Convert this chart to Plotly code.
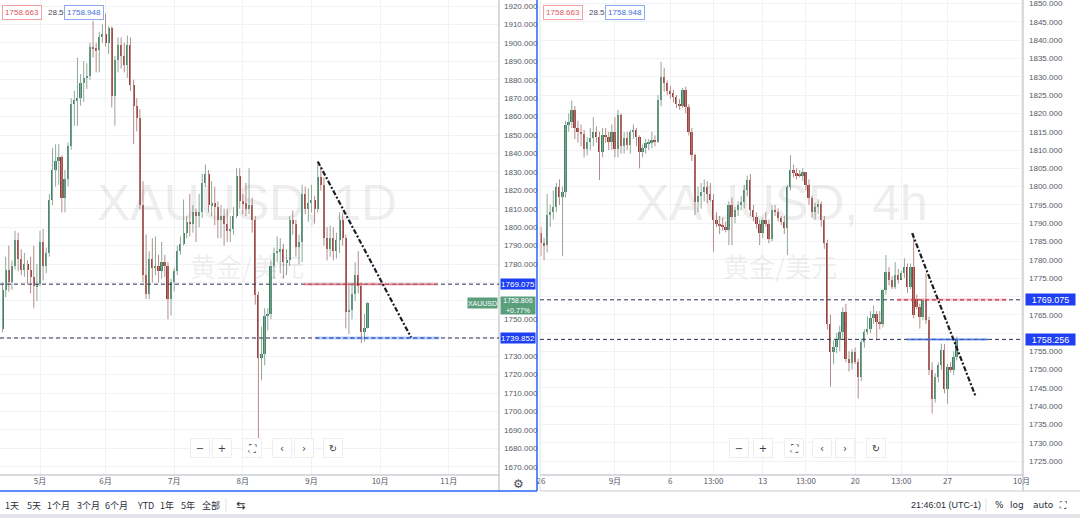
import plotly.graph_objects as go

# ---------------- data: daily XAUUSD (left panel) ----------------
d_open = [1733,1745,1766,1777,1770,1779,1793,1783,1777,1780,1777,1773,1768,1769,1792,1779,1786,1815,1831,1836,
          1838,1816,1826,1844,1867,1869,1870,1878,1881,1882,1898,1897,1896,1903,1905,1900,1908,1871,1891,1899,
          1893,1888,1899,1877,1866,1859,1812,1774,1764,1783,1778,1779,1776,1781,1779,1761,1770,1776,1787,1791,
          1797,1803,1802,1808,1806,1808,1824,1829,1812,1813,1811,1804,1806,1802,1798,1799,1806,1828,1814,1813,
          1810,1812,1804,1763,1729,1731,1752,1753,1779,1786,1787,1788,1781,1782,1804,1802,1789,1792,1818,1810,
          1813,1815,1810,1827,1823,1794,1788,1794,1787,1793,1804,1794,1754,1755,1764,1774,1768,1743,1745.4]
d_high = [1747,1770,1784,1790,1782,1798,1797,1788,1786,1782,1784,1790,1780,1798,1799,1789,1818,1843,1845,1845,
          1839,1831,1846,1870,1874,1892,1883,1890,1889,1900,1912,1900,1906,1910,1916,1909,1909,1893,1903,1903,
          1900,1904,1903,1880,1870,1864,1825,1796,1787,1794,1795,1785,1792,1785,1781,1772,1778,1790,1795,1815,
          1806,1818,1812,1810,1818,1829,1834,1831,1825,1822,1814,1812,1810,1810,1806,1811,1832,1832,1818,1824,
          1832,1816,1806,1765,1746,1756,1756,1782,1789,1795,1794,1791,1788,1806,1809,1804,1796,1823,1822,1821,
          1823,1817,1834,1833,1827,1800,1801,1800,1797,1808,1808,1796,1770,1769,1781,1787,1770,1753,1759.5]
d_low = [1729,1743,1762,1765,1766,1777,1776,1774,1773,1769,1764,1756,1760,1768,1771,1775,1784,1812,1822,1823,
         1808,1808,1822,1842,1855,1855,1866,1868,1875,1880,1892,1884,1884,1900,1898,1894,1865,1855,1884,1886,
         1884,1881,1874,1845,1852,1810,1770,1761,1761,1770,1774,1770,1772,1773,1750,1752,1765,1774,1785,1790,
         1794,1795,1797,1792,1800,1805,1822,1808,1806,1801,1794,1794,1790,1792,1792,1796,1805,1810,1807,1806,
         1807,1797,1758,1683,1717,1725,1744,1750,1772,1781,1775,1772,1774,1779,1796,1784,1780,1781,1807,1803,
         1808,1802,1808,1820,1790,1782,1784,1782,1783,1786,1790,1745,1742,1750,1760,1764,1737,1738,1745]
d_close = [1745,1766,1777,1770,1779,1793,1783,1777,1780,1777,1773,1768,1769,1792,1779,1786,1815,1831,1836,1838,
           1816,1826,1844,1867,1869,1870,1878,1881,1882,1898,1897,1896,1903,1905,1900,1908,1871,1891,1899,1893,
           1888,1899,1877,1866,1859,1812,1774,1764,1783,1778,1779,1776,1781,1779,1761,1770,1776,1787,1791,1797,
           1803,1802,1808,1806,1808,1824,1829,1812,1813,1811,1804,1806,1802,1798,1799,1806,1828,1814,1813,1810,
           1812,1804,1763,1729,1731,1752,1753,1779,1786,1787,1788,1781,1782,1804,1802,1789,1792,1818,1810,1813,
           1815,1810,1827,1823,1794,1788,1794,1787,1793,1804,1794,1754,1755,1764,1774,1768,1743,1745.4,1758.8]

d_tick_pos = [13, 34, 56, 78, 100, 122, 144]
d_tick_text = ["5月", "6月", "7月", "8月", "9月", "10月", "11月"]
d_price_ticks = list(range(1670, 1921, 10))
d_price_hidden = [1770, 1760, 1740]   # covered by the price labels in the reference

# ---------------- data: 4h XAUUSD (right panel) ----------------
h_open = [1787.2,1784.5,1784,1792.2,1793,1794.5,1800,1797.2,1798.6,1816.8,1817.7,1820.9,1815.9,1815,1814.5,1810.4,1812.2,1813.2,1815,1813.6,
          1809.5,1814.1,1813.6,1812.2,1815,1810.4,1819.5,1811,1813.2,1811.3,1815,1815.4,1813.6,1809.5,1810.5,1811.8,1812,1812.7,1812.2,1823.6,
          1830,1828.2,1826,1825.5,1824.5,1822.7,1822,1826.4,1821.8,1815,1808.6,1795.9,1797.5,1798.6,1800,1798,1796.3,1790.8,1789.9,1789.5,
          1789,1788.1,1794.9,1791.7,1793.6,1795,1795.8,1799,1801.8,1793.6,1791.7,1789.9,1787.2,1790.8,1789.9,1785.8,1793.6,1793.1,1791.3,1790.4,
          1788.6,1799.9,1804.5,1803.6,1803.1,1803,1804,1800.4,1796.8,1793.1,1794.5,1795.2,1790.8,1784.5,1762.6,1754.9,1756.2,1758,1760.3,1765.8,
          1753,1751.7,1754.9,1752.1,1748,1757.6,1760.3,1761.2,1764,1765.3,1763.1,1762.4,1771.7,1776.7,1774.4,1772.6,1775.8,1774.6,1776.3,1778.1,
          1772.6,1778.1,1769.4,1767.2,1764.4,1769,1763.5,1749.8,1742.1,1748,1751.2,1755.3,1744.8,1750.8,1749.8,1753.5]
h_high = [1789,1786,1798,1795,1799,1801,1802,1800,1818,1820,1823.5,1822,1818,1817,1815.5,1813.5,1816,1819,1816.5,1815,
          1816,1816,1815,1817,1819,1821,1820,1815,1815,1815.5,1817,1816,1814,1811.5,1813,1813,1815,1814,1825,1834.1,
          1832.5,1829,1827.5,1826.5,1825,1824,1827,1827.3,1822.5,1816,1809,1800,1801,1802,1801.5,1801,1798,1793,1792,1791.5,
          1790.5,1796,1797,1794.5,1796,1797.5,1800.5,1803,1803.5,1795,1793,1791,1791.5,1793,1791,1795,1795,1794,1792,1792,
          1800.5,1808.6,1806,1805,1804.5,1805,1804,1802,1797.5,1795.5,1796.5,1796,1792,1785.5,1765,1758,1760,1762,1767,1768,
          1755,1755.5,1756,1753,1758.5,1761,1764.5,1766,1767.5,1766,1766,1772,1781.3,1778,1775.5,1779.4,1777.5,1777,1780.4,1779,
          1779,1787.2,1770.5,1768,1769.5,1776.3,1764.5,1752,1749,1752,1757.1,1757,1751.5,1752,1755,1759]
h_low = [1781,1779.9,1782,1789,1791,1793,1795,1781,1797,1815,1816,1813,1812,1811,1808,1808.5,1810,1811,1812,1801.8,
         1808,1812,1810,1810,1808,1808,1809,1809,1810,1809,1813,1811,1805,1808,1809,1810,1810.5,1811,1812,1822,
         1826,1825,1824,1823,1821.5,1821,1821.5,1820,1814,1807,1792.2,1793,1794,1796,1795.5,1796,1782.2,1789,1787,1788,
         1787.5,1784,1784,1790,1792,1793.5,1794,1797.5,1792,1790.5,1788.5,1784,1786,1789,1784.5,1785,1792,1790.5,1789.5,1787,
         1781.3,1799,1802.5,1802,1802.5,1801.5,1799,1795,1791.5,1791,1792.5,1789,1783,1761,1745.3,1751.5,1754.5,1755,1758.5,1752,
         1749.5,1750,1751.5,1742.1,1747,1756,1759.5,1760,1762.5,1758,1761,1761.5,1770.5,1773,1772,1772,1773.5,1775,1775,1771,
         1772,1764,1766.5,1761.2,1763.5,1762.5,1748.5,1738,1741,1746.5,1750,1743.5,1740.7,1749.2,1748.5,1752.5]
h_close = [1784.5,1784,1792.2,1793,1794.5,1800,1797.2,1798.6,1816.8,1817.7,1820.9,1815.9,1815,1814.5,1810.4,1812.2,1813.2,1815,1813.6,1809.5,
           1814.1,1813.6,1812.2,1815,1810.4,1819.5,1811,1813.2,1811.3,1815,1815.4,1813.6,1809.5,1810.5,1811.8,1812,1812.7,1812.2,1823.6,1830,
           1828.2,1826,1825.5,1824.5,1822.7,1822,1826.4,1821.8,1815,1808.6,1795.9,1797.5,1798.6,1800,1798,1796.3,1790.8,1789.9,1789.5,1789,
           1788.1,1794.9,1791.7,1793.6,1795,1795.8,1799,1801.8,1793.6,1791.7,1789.9,1787.2,1790.8,1789.9,1785.8,1793.6,1793.1,1791.3,1790.4,1788.6,
           1799.9,1804.5,1803.6,1803.1,1803,1804,1800.4,1796.8,1793.1,1794.5,1795.2,1790.8,1784.5,1762.6,1754.9,1756.2,1758,1760.3,1765.8,1753,
           1751.7,1754.9,1752.1,1748,1757.6,1760.3,1761.2,1764,1765.3,1763.1,1762.4,1771.7,1776.7,1774.4,1772.6,1775.8,1774.6,1776.3,1778.1,1772.6,
           1778.1,1764.9,1767.2,1764.4,1769,1763.5,1749.8,1742.1,1748,1751.2,1755.3,1744.8,1750.8,1749.8,1753.5,1758.5]

h_tick_pos = [0, 24, 42, 56, 72, 86, 102, 117, 132, 156]
h_tick_text = ["26", "9月", "6", "13:00", "13", "13:00", "20", "13:00", "27", "10月"]
h_price_ticks = list(range(1725, 1851, 5))
h_price_hidden = [1770, 1760]   # covered by the price labels in the reference

# drawn levels / tools
lvl_upper = 1769.075
lvl_left_low = 1739.852
lvl_right_low = 1758.256
last_price = 1758.806
last_change = "+0.77%"
bid, spread, ask = "1758.663", "28.5", "1758.948"

d_red_seg = (97.6, 140.5)
d_blue_seg = (101.4, 141.0)
d_trend = ((102.0, 1835.7), (131.9, 1740.2))
h_red_seg = (115.6, 151.3)
h_blue_seg = (118.8, 145.1)
h_trend = ((120.5, 1787.3), (141.2, 1742.5))

# ---------------- helpers ----------------
W, H = 1080, 518
PB = 475  # plot bottom in px

def px(x):
    return x / W

def py(y):
    return (PB - y) / PB

UP_BODY, DN_BODY = "#3d8562", "#9e3b36"
WICK_UP, WICK_DN = "#8fa89b", "#b58c89"


def add_candles(fig, o, h, l, c, xa, ya):
    idx = list(range(len(c)))
    base = [min(a, b) for a, b in zip(o, c)]
    hgt = [max(abs(b - a), 0.35) for a, b in zip(o, c)]
    col = [UP_BODY if b >= a else DN_BODY for a, b in zip(o, c)]
    for up in (True, False):
        wx, wy = [], []
        for i in idx:
            if (c[i] >= o[i]) == up:
                wx += [i, i, None]
                wy += [l[i], h[i], None]
        fig.add_trace(go.Scatter(x=wx, y=wy, mode="lines", xaxis=xa, yaxis=ya,
                                 line=dict(color=WICK_UP if up else WICK_DN, width=1),
                                 hoverinfo="skip", showlegend=False))
    fig.add_trace(go.Bar(x=idx, y=hgt, base=base, marker=dict(color=col, line=dict(width=0)),
                         width=0.64, xaxis=xa, yaxis=ya, hoverinfo="skip", showlegend=False))


fig = go.Figure()
add_candles(fig, d_open, d_high, d_low, d_close, "x", "y")
add_candles(fig, h_open, h_high, h_low, h_close, "x2", "y2")

FONT = "Liberation Sans, Arial, Noto Sans CJK SC"
CJK = "Noto Sans CJK SC, Liberation Sans"
GRID = "#f1f2f5"
TICKC = "#555a66"

fig.update_layout(
    template="none",
    width=W, height=H, margin=dict(l=0, r=0, t=0, b=H - PB, pad=0, autoexpand=False),
    paper_bgcolor="white", plot_bgcolor="white", showlegend=False, bargap=0,
    font=dict(family=FONT, size=8, color=TICKC),
    xaxis=dict(domain=[0, px(499)], range=[0.18, 160.1], anchor="y", automargin=False,
               tickmode="array", tickvals=d_tick_pos, ticktext=d_tick_text,
               tickfont=dict(family=CJK, size=8, color=TICKC), ticks="",
               showgrid=True, gridcolor=GRID, gridwidth=1, zeroline=False, showline=False, fixedrange=True),
    yaxis=dict(domain=[0, 1], range=[1665.5, 1923.3], anchor="x", side="right", automargin=False,
               tickmode="array", tickvals=d_price_ticks,
               ticktext=["" if v in d_price_hidden else f"{v:.3f}" for v in d_price_ticks],
               tickfont=dict(size=8, color=TICKC), ticks="", ticklabelstandoff=4,
               ticklabeloverflow="allow",
               showgrid=True, gridcolor=GRID, gridwidth=1, zeroline=False, showline=False, fixedrange=True),
    xaxis2=dict(domain=[px(540), px(1023)], range=[-0.32, 156.5], anchor="y2", automargin=False,
                tickmode="array", tickvals=h_tick_pos, ticktext=h_tick_text,
                tickfont=dict(family=CJK, size=8, color=TICKC), ticks="",
                showgrid=True, gridcolor=GRID, gridwidth=1, zeroline=False, showline=False, fixedrange=True),
    yaxis2=dict(domain=[0, 1], range=[1721.2, 1851.0], anchor="x2", side="right", automargin=False,
                tickmode="array", tickvals=h_price_ticks,
                ticktext=["" if v in h_price_hidden else f"{v:.3f}" for v in h_price_ticks],
                tickfont=dict(size=8, color=TICKC), ticks="", ticklabelstandoff=5,
                ticklabeloverflow="allow",
                showgrid=True, gridcolor=GRID, gridwidth=1, zeroline=False, showline=False, fixedrange=True),
)

shapes = []
AX = "#b2b5be"
shapes.append(dict(type="line", xref="paper", yref="paper", x0=0, x1=px(499), y0=0, y1=0, line=dict(color=AX, width=1)))
shapes.append(dict(type="line", xref="paper", yref="paper", x0=px(540), x1=px(1023), y0=0, y1=0, line=dict(color=AX, width=1)))
shapes.append(dict(type="line", xref="paper", yref="paper", x0=px(499), x1=px(499), y0=py(491), y1=1, line=dict(color=AX, width=1)))
shapes.append(dict(type="line", xref="paper", yref="paper", x0=px(1023), x1=px(1023), y0=py(491), y1=1, line=dict(color=AX, width=1)))
shapes.append(dict(type="line", xref="paper", yref="paper", x0=px(540), x1=1, y0=py(491), y1=py(491), line=dict(color="#c9ccd3", width=1)))
shapes.append(dict(type="line", xref="paper", yref="paper", x0=px(537), x1=px(537), y0=py(491), y1=1, line=dict(color="#2962ff", width=1.5)))
shapes.append(dict(type="line", xref="paper", yref="paper", x0=0, x1=px(537), y0=py(491), y1=py(491), line=dict(color="#2962ff", width=1.5)))
shapes.append(dict(type="line", xref="paper", yref="paper", x0=px(540), x1=px(540), y0=py(491), y1=1, line=dict(color="#e0e3eb", width=1)))
shapes.append(dict(type="rect", xref="paper", yref="paper", x0=0, x1=1, y0=py(518), y1=py(514), fillcolor="#e3e5ea", line=dict(width=0)))
shapes.append(dict(type="line", xref="paper", yref="paper", x0=px(226), x1=px(226), y0=py(512), y1=py(498), line=dict(color="#e0e3eb", width=1)))
shapes.append(dict(type="line", xref="paper", yref="paper", x0=px(986), x1=px(986), y0=py(512), y1=py(498), line=dict(color="#e0e3eb", width=1)))

DASH_C = "#2b3050"
for ya, xd, lv in (("y", "x domain", lvl_upper), ("y", "x domain", lvl_left_low),
                   ("y2", "x2 domain", lvl_upper), ("y2", "x2 domain", lvl_right_low)):
    shapes.append(dict(type="line", xref=xd, yref=ya, x0=0, x1=1, y0=lv, y1=lv,
                       line=dict(color=DASH_C, width=1, dash="4px,3px")))

for xa, ya, seg, lv, band, ln in (
        ("x", "y", d_red_seg, lvl_upper, "rgba(242,54,69,0.22)", "#ee4d5f"),
        ("x", "y", d_blue_seg, lvl_left_low, "rgba(41,98,255,0.30)", "#3f6fe0"),
        ("x2", "y2", h_red_seg, lvl_upper, "rgba(242,54,69,0.22)", "#ee4d5f"),
        ("x2", "y2", h_blue_seg, lvl_right_low, "rgba(41,98,255,0.30)", "#3f6fe0")):
    shapes.append(dict(type="line", xref=xa, yref=ya, x0=seg[0], x1=seg[1], y0=lv, y1=lv,
                       line=dict(color=band, width=3)))
    shapes.append(dict(type="line", xref=xa, yref=ya, x0=seg[0], x1=seg[1], y0=lv, y1=lv,
                       line=dict(color=ln, width=1, dash="4px,3px")))

for xa, ya, tr in (("x", "y", d_trend), ("x2", "y2", h_trend)):
    shapes.append(dict(type="line", xref=xa, yref=ya, x0=tr[0][0], y0=tr[0][1], x1=tr[1][0], y1=tr[1][1],
                       line=dict(color="#1b1d26", width=2.2, dash="5px,2px,2px,2px")))

ann = []


def note(x, y, text, yref="paper", **kw):
    d = dict(x=x, y=y, xref="paper", yref=yref, text=text, showarrow=False,
             xanchor="center", yanchor="middle")
    d.update(kw)
    ann.append(d)


WM = "rgba(120,123,134,0.13)"
note(px(247), py(203), "XAUUSD, 1D", font=dict(family="Liberation Sans", size=50, color=WM))
note(px(247), py(265), "黄金/美元", font=dict(family=CJK, size=26, color=WM))
note(px(782), py(203), "XAUUSD, 4h", font=dict(family="Liberation Sans", size=50, color=WM))
note(px(780), py(265), "黄金/美元", font=dict(family=CJK, size=26, color=WM))

for x0 in (0, 541):
    note(px(x0 + 22), py(12), bid, font=dict(size=8, color="#e0565a"), bgcolor="white",
         bordercolor="#f0a3a3", borderwidth=1, borderpad=2, width=34)
    note(px(x0 + 56), py(12), spread, font=dict(size=8, color="#4a4e5a"))
    note(px(x0 + 84), py(12), ask, font=dict(size=8, color="#3f6fe0"), bgcolor="white",
         bordercolor="#8faaf0", borderwidth=1, borderpad=2, width=34)

BL = "#1f3ff2"
GR = "#5b9e7c"
for lv in (lvl_upper, lvl_left_low):
    note(px(518), lv, f"{lv:.3f}", yref="y", font=dict(size=8, color="white"), bgcolor=BL,
         width=34, height=10, borderpad=0)
note(px(518), last_price - 1.2, f"{last_price:.3f}<br>{last_change}", yref="y",
     font=dict(size=7, color="white"), bgcolor=GR, width=34, height=17, borderpad=0)
note(px(482), last_price, "XAUUSD", yref="y", font=dict(size=7, color="white"), bgcolor=GR,
     width=29, height=10, borderpad=0)
for lv in (lvl_upper, lvl_right_low):
    note(px(1050), lv, f"{lv:.3f}", yref="y2", font=dict(size=9, color="white"), bgcolor=BL,
         width=49, height=11, borderpad=0)

for xs in ((200, 222, 252, 282, 304, 333), (739, 763, 794, 822, 845, 876)):
    for xb, sym in zip(xs, ("−", "+", "⛶", "‹", "›", "↻")):
        note(px(xb), py(448), sym, font=dict(family="DejaVu Sans", size=10, color="#3a3e4a"),
             bgcolor="white", bordercolor="#eceef2", borderwidth=1, width=18, height=18, borderpad=0)

note(px(518), py(484), "⚙", font=dict(family="DejaVu Sans", size=12, color="#4a4e5a"))

for xb, t in zip((12, 34, 58, 88, 116, 145, 167, 188, 211),
                 ("1天", "5天", "1个月", "3个月", "6个月", "YTD", "1年", "5年", "全部")):
    note(px(xb), py(505), t, font=dict(family=CJK, size=9, color="#2a2e39"))
note(px(240), py(505), "⇆", font=dict(family="DejaVu Sans", size=11, color="#2a2e39"))
note(px(946), py(505), "21:46:01 (UTC-1)", font=dict(size=9, color="#2a2e39"))
for xb, t in zip((999, 1017, 1043, 1063), ("%", "log", "auto", "⛶")):
    note(px(xb), py(505), t, font=dict(family="DejaVu Sans", size=9, color="#2a2e39"))

fig.update_layout(shapes=shapes, annotations=ann)
fig.write_html("out.html", config=dict(displayModeBar=False),
               post_script="document.body.style.margin='0';document.body.style.padding='0';")
